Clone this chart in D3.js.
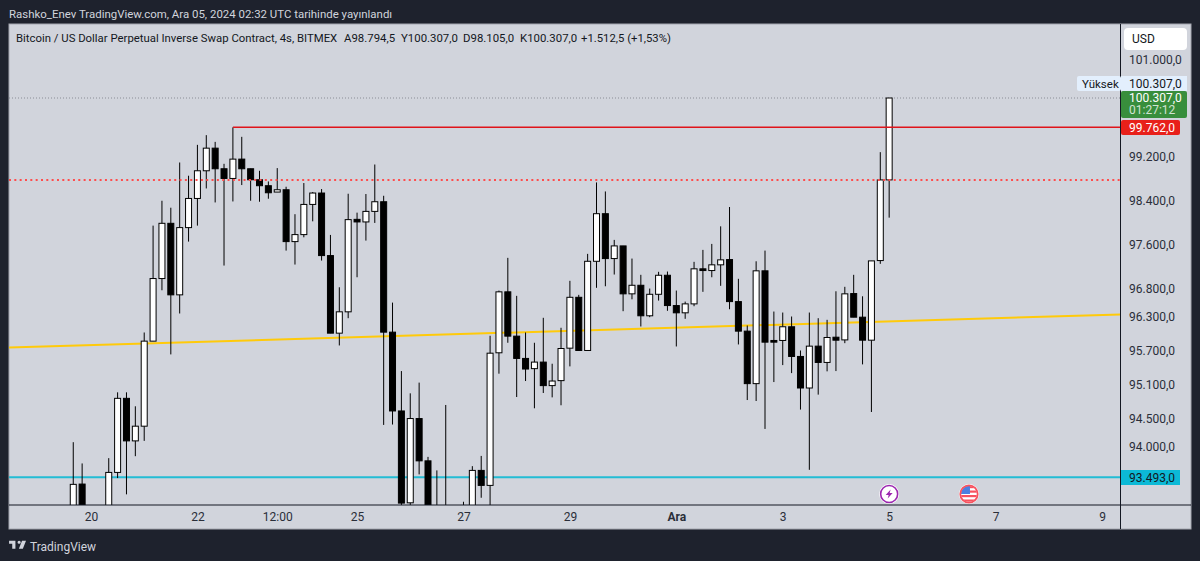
<!DOCTYPE html>
<html lang="en">
<head>
  <meta charset="UTF-8">
  <title>BTC/USD Perpetual 4h Candles</title>
  <script src="https://d3js.org/d3.v7.min.js"></script>
  <style>
    html, body { margin: 0; padding: 0; background: #1e222d; }
    svg { display: block; }
    text { font-family: Roboto, sans-serif; }
    .tick text { font-size: 12px; fill: #2a2e39; }
  </style>
</head>
<body>
  <div id="chart"></div>

  <script>
    // 4h candles, first one opens on Nov 19 2024 16:00 UTC. Bars that sit under the
    // bottom edge of the picture are estimates, only their wick tips can be seen.
    const firstCandle = Date.UTC(2024, 10, 19, 16);
    const candleStep = 4 * 3600 * 1000;

    const opens = [
      92700, 93374, 92900, 92600, 92850, 93576, 94871, 94125, 94382, 95883,
      97003, 98002, 96710, 97924, 98455, 98962, 99378, 98999, 98821, 99176,
      98999, 98797, 98688, 98572, 98614, 97670, 97797, 98346, 98554, 97417,
      96025, 96406, 98074, 98027, 98219, 98395, 96043, 94649, 93050, 94516,
      93777, 92800, 92900, 92800, 92700, 92900, 93611, 93351, 95676, 96764,
      95972, 95576, 95395, 95511, 95095, 95183, 95758, 96666, 95717, 97314,
      98177, 97363, 97592, 96728, 96882, 96335, 96720, 97062, 96518, 96388,
      96548, 97178, 97147, 97250, 97345, 96589, 96061, 95130, 97142, 95895,
      95895, 96139, 95611, 95053, 95794, 95505, 95953, 95905, 96733, 96310,
      95900, 97327, 98794.5
    ];
    const highs = [
      94102, 93732, 92950, 92980, 93824, 94977, 94977, 94731, 96037, 97960,
      98413, 98286, 99114, 98871, 99439, 99618, 99494, 99090, 99762, 99587,
      99000, 98962, 98766, 99011, 98669, 98168, 98737, 98572, 98627, 97791,
      96846, 98541, 98196, 98536, 99077, 98504, 96571, 95352, 94959, 95148,
      93846, 93611, 94754, 92980, 93068, 93685, 93863, 95979, 96787, 97376,
      96692, 96037, 95854, 96299, 95482, 96121, 96962, 96710, 97448, 98748,
      98583, 97701, 97592, 97363, 97070, 96823, 97124, 97129, 96787, 96589,
      97304, 97520, 97628, 97947, 98299, 96998, 96162, 97314, 97507, 96411,
      96393, 96322, 95717, 96393, 96292, 96263, 96774, 96854, 97070, 96684,
      97321, 99304, 100307
    ];
    const lows = [
      92400, 92600, 92400, 92300, 92600, 93478, 93196, 93858, 94125, 95883,
      96792, 95647, 96376, 97670, 97960, 98638, 98382, 97237, 98400, 98700,
      98413, 98395, 98450, 98572, 97507, 97255, 97748, 98038, 97327, 96025,
      95806, 96292, 97026, 97688, 98009, 94404, 94411, 92950, 92950, 93542,
      92500, 92600, 92500, 92400, 92500, 92700, 93137, 92900, 95306, 95854,
      94894, 95176, 94696, 94965, 94888, 94749, 95435, 95717, 95717, 96836,
      96864, 97075, 96417, 96630, 96144, 96310, 96607, 96424, 95788, 96281,
      96506, 96764, 97026, 96872, 96452, 95824, 94841, 94824, 94334, 95158,
      95458, 95316, 94673, 93621, 94936, 95347, 95352, 95847, 96310, 95470,
      94631, 97268, 98105
    ];
    const closes = [
      93369, 92900, 92600, 92850, 93576, 94871, 94125, 94382, 95883, 97003,
      98002, 96710, 97924, 98455, 98962, 99378, 98999, 98821, 99176, 98999,
      98797, 98688, 98559, 98614, 97670, 97797, 98346, 98554, 97417, 96025,
      96406, 98069, 98027, 98219, 98395, 96043, 94649, 93045, 94516, 93777,
      92800, 92900, 92800, 92700, 92900, 93611, 93351, 95669, 96764, 95972,
      95576, 95388, 95511, 95095, 95176, 95752, 96666, 95717, 97314, 98177,
      97363, 97592, 96728, 96882, 96335, 96720, 97062, 96518, 96388, 96548,
      97178, 97147, 97250, 97340, 96589, 96061, 95130, 97142, 95865, 95865,
      96139, 95611, 95053, 95794, 95505, 95948, 95900, 96728, 96310, 95900,
      97321, 98794, 100307
    ];

    // Axis labels
    const priceTicks = [101000, 99200, 98400, 97600, 96800, 96300, 95700, 95100, 94500, 94000];
    const timeTicks = [
      Date.UTC(2024, 10, 20), Date.UTC(2024, 10, 22), Date.UTC(2024, 10, 23, 12),
      Date.UTC(2024, 10, 25), Date.UTC(2024, 10, 27), Date.UTC(2024, 10, 29),
      Date.UTC(2024, 11, 1), Date.UTC(2024, 11, 3), Date.UTC(2024, 11, 5),
      Date.UTC(2024, 11, 7), Date.UTC(2024, 11, 9)
    ];
    const timeLabels = ["20", "22", "12:00", "25", "27", "29", "Ara", "3", "5", "7", "9"];

    // Drawn levels
    const resistance = 99762;
    const dottedLevel = 98792;
    const support = 93493;
    const highLevel = 100307;
    const trendPrices = [95770, 96358];
    const resistanceStart = firstCandle + 18 * candleStep;
    const eventDates = [Date.UTC(2024, 11, 5), Date.UTC(2024, 11, 6, 12)];

    const W = 1200, H = 561;
    const plot = {left: 9, right: 1120.5, top: 24, bottom: 505};

    const svg = d3.select("#chart").append("svg").attr("width", W).attr("height", H);

    const x = d3.scaleUtc()
      .domain([Date.UTC(2024, 10, 20), Date.UTC(2024, 11, 9)])
      .range([91, 1102]);

    // the price axis of this chart is logarithmic
    const y = d3.scaleLog()
      .domain([support, highLevel])
      .range([477.2, 98]);

    const trFormat = d3.formatLocale({decimal: ",", thousands: ".", grouping: [3], currency: ["", ""]}).format(",.1f");

    // panel
    svg.append("rect").attr("x", 9).attr("y", 24).attr("width", 1182).attr("height", 505)
      .attr("fill", "#d1d4dc").attr("stroke", "#a3a6af").attr("stroke-width", 1);

    svg.append("clipPath").attr("id", "plotClip").append("rect")
      .attr("x", plot.left).attr("y", plot.top)
      .attr("width", plot.right - plot.left).attr("height", plot.bottom - plot.top);

    const g = svg.append("g").attr("clip-path", "url(#plotClip)");
    const leftTime = x.invert(plot.left), rightTime = x.invert(plot.right);

    // levels under the candles
    g.append("line").attr("x1", plot.left).attr("x2", plot.right)
      .attr("y1", y(highLevel)).attr("y2", y(highLevel))
      .attr("stroke", "#8a8d96").attr("stroke-dasharray", "1 2");
    g.append("line").attr("x1", plot.left).attr("x2", plot.right)
      .attr("y1", y(support)).attr("y2", y(support))
      .attr("stroke", "#22bcd4").attr("stroke-width", 2);
    g.append("line")
      .attr("x1", x(leftTime)).attr("x2", x(rightTime))
      .attr("y1", y(trendPrices[0])).attr("y2", y(trendPrices[1]))
      .attr("stroke", "#ffca0a").attr("stroke-width", 2);

    // candles
    const candles = opens.map((o, i) => ({
      t: firstCandle + i * candleStep, o, h: highs[i], l: lows[i], c: closes[i]
    }));

    g.selectAll("line.wick").data(candles).join("line")
      .attr("class", "wick")
      .attr("x1", d => x(d.t)).attr("x2", d => x(d.t))
      .attr("y1", d => y(d.h)).attr("y2", d => y(d.l))
      .attr("stroke", "#000").attr("stroke-width", 1);

    g.selectAll("rect.body").data(candles).join("rect")
      .attr("class", "body")
      .attr("x", d => x(d.t) - 3).attr("width", 6)
      .attr("y", d => y(Math.max(d.o, d.c)))
      .attr("height", d => Math.max(1, Math.abs(y(d.o) - y(d.c))))
      .attr("fill", d => d.c >= d.o ? "#fff" : "#000")
      .attr("stroke", "#000").attr("stroke-width", 1);

    // levels over the candles
    g.append("line").attr("x1", plot.left).attr("x2", plot.right)
      .attr("y1", y(dottedLevel)).attr("y2", y(dottedLevel))
      .attr("stroke", "#ff4d4d").attr("stroke-width", 2).attr("stroke-dasharray", "2 3.33");
    g.append("line").attr("x1", x(resistanceStart)).attr("x2", plot.right)
      .attr("y1", y(resistance)).attr("y2", y(resistance))
      .attr("stroke", "#e0141a").attr("stroke-width", 1.5);

    // event badges at the bottom of the plot
    const bolt = svg.append("g").attr("transform", `translate(${x(eventDates[0])},494)`);
    bolt.append("circle").attr("r", 10).attr("fill", "#fff");
    bolt.append("circle").attr("r", 8.5).attr("fill", "#fff").attr("stroke", "#9c27b0").attr("stroke-width", 1.6);
    bolt.append("path").attr("d", "M1.5,-4.5 L-3.5,1 L-0.5,1 L-1.5,4.5 L3.5,-1 L0.5,-1 Z").attr("fill", "#9c27b0");

    const flag = svg.append("g").attr("transform", `translate(${x(eventDates[1])},494)`);
    flag.append("clipPath").attr("id", "flagClip").append("circle").attr("r", 8);
    flag.append("circle").attr("r", 10).attr("fill", "#fff");
    const flagInner = flag.append("g").attr("clip-path", "url(#flagClip)");
    flagInner.append("rect").attr("x", -8).attr("y", -8).attr("width", 16).attr("height", 16).attr("fill", "#fff");
    [-8, -3.5, 1, 5.5].forEach(s => flagInner.append("rect")
      .attr("x", -8).attr("y", s).attr("width", 16).attr("height", 2.2).attr("fill", "#f7525f"));
    flagInner.append("rect").attr("x", -8).attr("y", -8).attr("width", 9).attr("height", 8).attr("fill", "#4c7fe0");
    flag.append("circle").attr("r", 8.7).attr("fill", "none").attr("stroke", "#f7525f").attr("stroke-width", 1.8);

    // axis frame lines
    svg.append("line").attr("x1", 9).attr("x2", 1191).attr("y1", 505).attr("y2", 505)
      .attr("stroke", "#131722");
    svg.append("line").attr("x1", 1120.5).attr("x2", 1120.5).attr("y1", 24).attr("y2", 529)
      .attr("stroke", "#131722");

    // time axis
    const xAxis = svg.append("g").attr("transform", "translate(0,505)")
      .call(d3.axisBottom(x).tickValues(timeTicks).tickFormat((d, i) => timeLabels[i]).tickSize(0).tickPadding(7));
    xAxis.select(".domain").remove();
    xAxis.selectAll(".tick text")
      .attr("font-weight", (d, i) => timeLabels[i] === "Ara" ? 700 : 400);

    // price axis
    const yAxis = svg.append("g").attr("transform", "translate(1129,-1)")
      .call(d3.axisRight(y).tickValues(priceTicks).tickFormat(trFormat).tickSize(0).tickPadding(0));
    yAxis.select(".domain").remove();

    // price tags
    function tag(x0, y0, w, h, fill, rx) {
      svg.append("rect").attr("x", x0).attr("y", y0).attr("width", w).attr("height", h)
        .attr("fill", fill).attr("rx", rx);
    }
    function label(x0, y0, str, fill, size, anchor) {
      svg.append("text").attr("x", x0).attr("y", y0).attr("fill", fill)
        .attr("font-size", size).attr("text-anchor", anchor || "start").text(str);
    }

    tag(1124, 28, 63, 22, "#fff", 4);
    label(1132, 43, "USD", "#131722", 12);

    tag(1077, 76, 44, 15, "#e3effd", 2);
    tag(1121, 76, 66, 15, "#e3effd", 0);
    label(1082, 87.5, "Yüksek", "#131722", 11.5);
    label(1129, 87.5, trFormat(highLevel), "#131722", 12);

    tag(1121, 91, 66, 27, "#388e3c", 2);
    label(1129, 101.5, trFormat(closes[closes.length - 1]), "#fff", 12);
    label(1129, 114, "01:27:12", "#d1e4d2", 12);

    tag(1121, 120, 59, 15, "#e8201a", 2);
    label(1129, 131.5, trFormat(resistance), "#fff", 12);

    tag(1121, 470, 59, 15, "#0cb9d6", 0);
    label(1129, 481.5, trFormat(support), "#131722", 12);

    // top lines
    label(9, 18, "Rashko_Enev TradingView.com, Ara 05, 2024 02:32 UTC tarihinde yayınlandı", "#d1d4dc", 11.44);
    label(16, 41.5, "Bitcoin / US Dollar Perpetual Inverse Swap Contract, 4s, BITMEX", "#131722", 11.35);
    label(344, 41.5, "A98.794,5", "#131722", 11.4);
    label(401, 41.5, "Y100.307,0", "#131722", 11.4);
    label(463, 41.5, "D98.105,0", "#131722", 11.4);
    label(520, 41.5, "K100.307,0", "#131722", 11.4);
    label(581, 41.5, "+1.512,5 (+1,53%)", "#131722", 11.3);

    // footer logo
    svg.append("path")
      .attr("transform", "translate(8,537.5) scale(0.53)")
      .attr("d", "M14 6H2v6h6v9h6V6zm14 15h-7.5l6-15H34l-6 15zm-7-9a3 3 0 100-6 3 3 0 000 6z")
      .attr("fill", "#d1d4dc");
    label(30, 550.5, "TradingView", "#d1d4dc", 12);
  </script>
</body>
</html>
